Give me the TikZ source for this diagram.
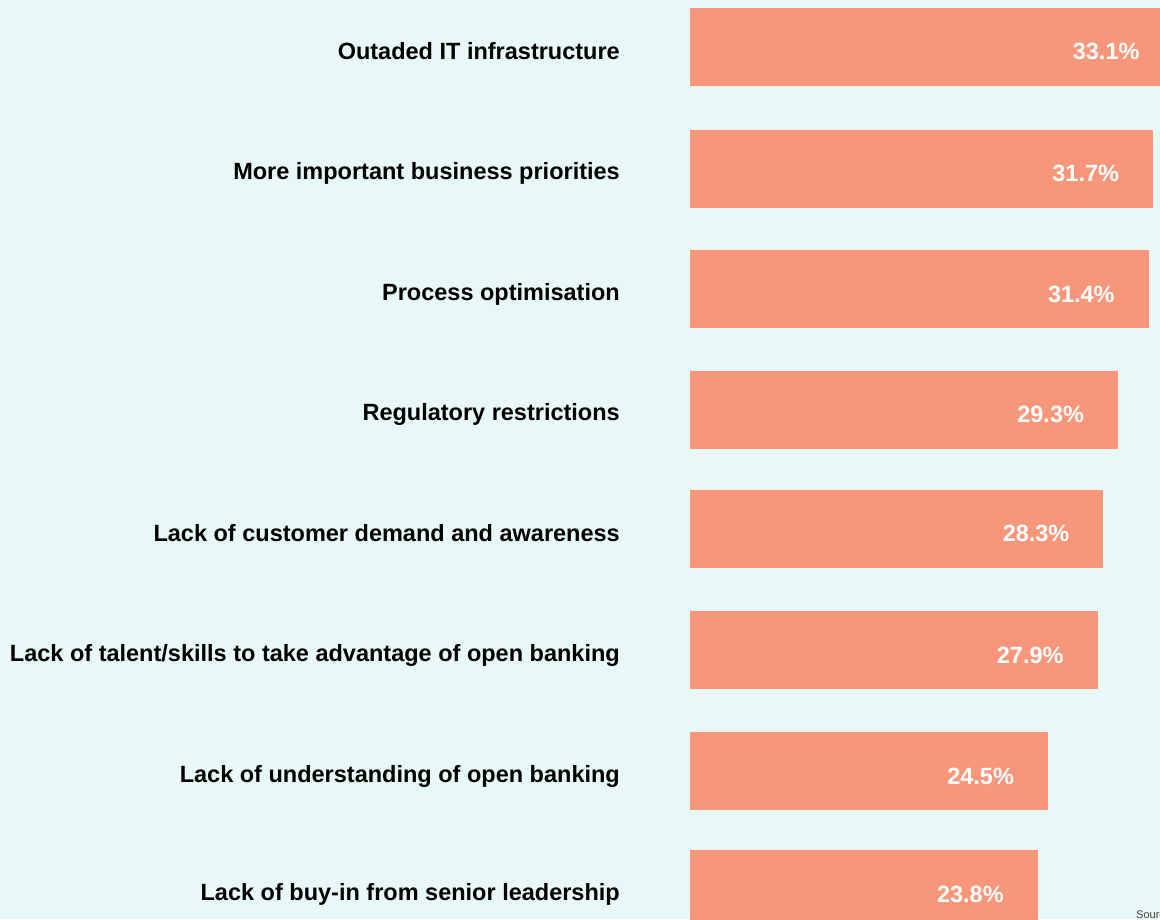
\documentclass[tikz,border=0pt]{standalone}
\usepackage{fontspec}
\setmainfont{Liberation Sans}
\usetikzlibrary{positioning}
\definecolor{bgmint}{HTML}{E8F8F6}
\definecolor{barsalmon}{HTML}{F8967A}
\tikzstyle{bar} = [rectangle, fill=barsalmon, minimum height=78pt, inner sep=0pt, anchor=west]
\tikzstyle{reason} = [font=\fontsize{23.5}{24}\selectfont\bfseries, text=black, inner sep=0pt]
\tikzstyle{pct} = [font=\fontsize{23.5}{24}\selectfont\bfseries, text=white, inner sep=0pt]

\begin{document}
\begin{tikzpicture}[x=1pt, y=-1pt]
  \clip (0,0) rectangle (1160,919);
  \fill[bgmint] (0,0) rectangle (1160,919);

  % barras
  \foreach \i/\txt/\v/\yc in {
      1/{Outaded IT infrastructure}/33.1/46.5,
      2/{More important business priorities}/31.7/168.5,
      3/{Process optimisation}/31.4/289,
      4/{Regulatory restrictions}/29.3/409.5,
      5/{Lack of customer demand and awareness}/28.3/528.5,
      6/{Lack of talent/skills to take advantage of open banking}/27.9/650,
      7/{Lack of understanding of open banking}/24.5/771,
      8/{Lack of buy-in from senior leadership}/23.8/889} {
    \node[bar, minimum width={14.6pt*\v}] (bar\i) at (690,\yc) {};
    \node[reason, left=70pt of bar\i.west, yshift=-5pt] (reason\i) {\txt};
    \node[pct, left=34pt of bar\i.east, yshift=-5pt] (pct\i) {\v\%};
  }

  % fuente
  \node[anchor=north west, inner sep=0pt, text=black!75,
        font=\fontsize{11}{11}\selectfont] (source) at (1136,911) {Source};
\end{tikzpicture}
\end{document}
